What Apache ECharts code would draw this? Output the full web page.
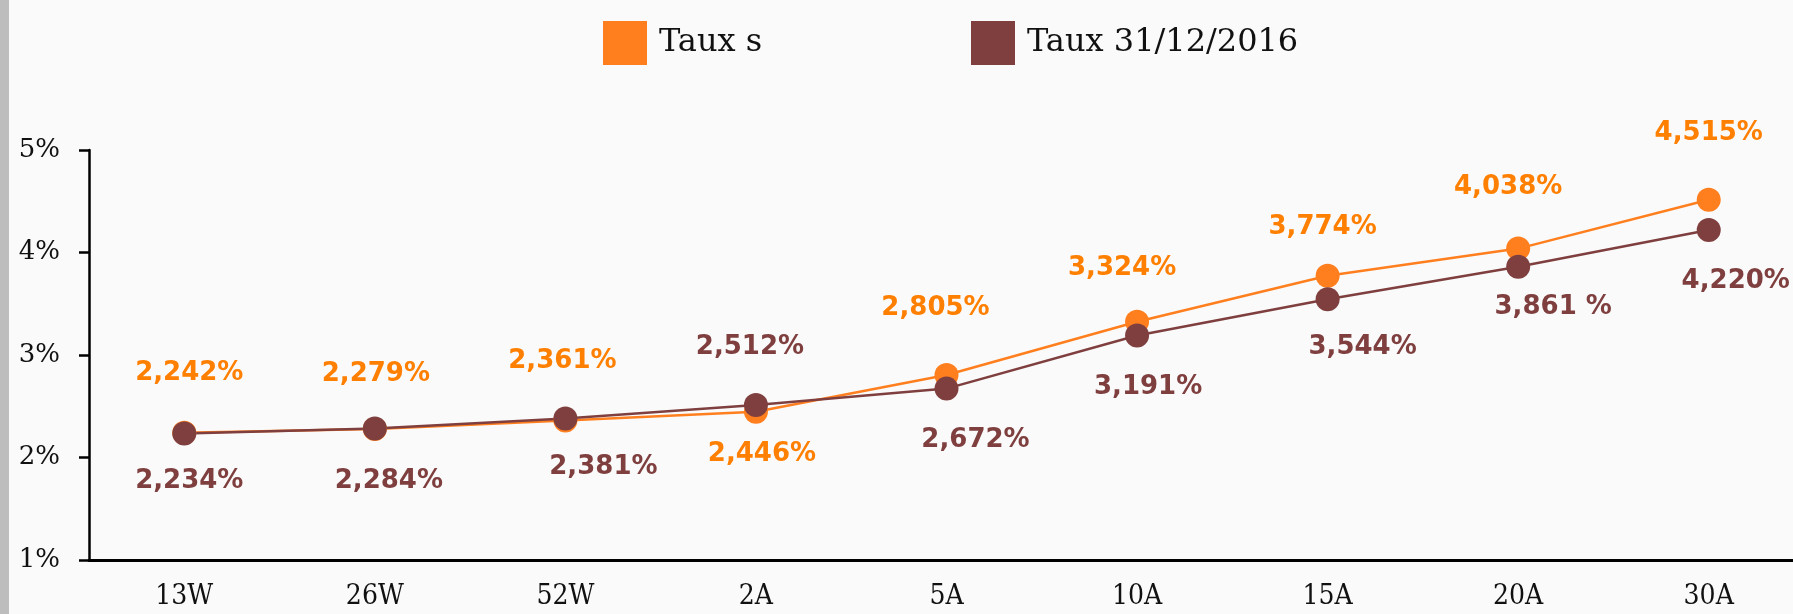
<!DOCTYPE html>
<html>
<head>
<meta charset="utf-8">
<script src="https://cdn.jsdelivr.net/npm/echarts@6/dist/echarts.min.js"></script>
<style>
  html, body { margin: 0; padding: 0; background: #fafafa; overflow: hidden; }
  /* plot runs slightly past the right edge of the window, as in the original */
  #chart { width: 1806px; height: 614px; }
</style>
</head>
<body>
<div id="chart"></div>
<script>
// maturities on the x axis
const maturities = ['13W', '26W', '52W', '2A', '5A', '10A', '15A', '20A', '30A'];

// rates in %
const tauxS = [2.242, 2.279, 2.361, 2.446, 2.805, 3.324, 3.774, 4.038, 4.515];
const taux2016 = [2.234, 2.284, 2.381, 2.512, 2.672, 3.191, 3.544, 3.861, 4.220];

// y axis ticks (%)
const yTicks = [1, 2, 3, 4, 5];

// label placement relative to each point (style only)
const tauxSOffsets = [[5, -59], [1, -55], [-3, -59], [6, 42], [-11, -67], [-15, -54], [-5, -48], [-10, -61], [0, -66]];
const taux2016Offsets = [[5, 48], [14, 53], [38, 49], [-6, -58], [29, 52], [11, 52], [35, 48], [35, 41], [27, 51]];

const ORANGE = '#ff7f1f';
const BROWN = '#7f3f3f';

function fmt(v) {
    return v.toFixed(3).replace('.', ',') + '%';
}

function buildPoints(values, offsets, textFix) {
    return values.map((v, i) => {
        const item = { value: v, label: { offset: offsets[i] } };
        if (textFix && textFix[i]) { item.label.formatter = textFix[i]; }
        return item;
    });
}

function lineSeries(name, color, labelColor, data) {
    return {
        name: name,
        type: 'line',
        data: data,
        symbol: 'circle',
        symbolSize: 24,
        showAllSymbol: true,
        lineStyle: { color: color, width: 2.5 },
        itemStyle: { color: color },
        label: {
            show: true,
            position: 'inside',
            align: 'center',
            verticalAlign: 'middle',
            color: labelColor,
            fontFamily: 'DejaVu Sans',
            fontWeight: 'bold',
            fontSize: 26,
            formatter: p => fmt(p.value)
        },
        emphasis: { disabled: true },
        animation: false
    };
}

const chart = echarts.init(document.getElementById('chart'));

const legendBase = {
    top: 16,
    icon: 'rect',
    itemWidth: 44,
    itemHeight: 44,
    textStyle: {
        fontFamily: 'DejaVu Serif',
        fontSize: 32,
        color: '#111',
        padding: [0, 0, 0, 7]
    },
    selectedMode: false
};

chart.setOption({
    backgroundColor: '#fafafa',
    graphic: [{
        type: 'rect',
        left: 0, top: 0,
        shape: { width: 9, height: 614 },
        style: { fill: '#bdbdbd' },
        silent: true
    }],
    legend: [
        Object.assign({}, legendBase, { left: 598, data: ['Taux s'] }),
        Object.assign({}, legendBase, { left: 966, data: ['Taux 31/12/2016'] })
    ],
    grid: { left: 89, top: 150, width: 1715, bottom: 54, containLabel: false },
    xAxis: {
        type: 'category',
        data: maturities,
        boundaryGap: true,
        axisLine: { show: true, lineStyle: { color: '#000', width: 3 } },
        axisTick: { show: false },
        axisLabel: {
            fontFamily: 'DejaVu Serif Condensed, DejaVu Serif',
            fontSize: 28,
            color: '#111',
            margin: 23
        }
    },
    yAxis: {
        type: 'value',
        min: yTicks[0],
        max: yTicks[yTicks.length - 1],
        interval: 1,
        splitLine: { show: false },
        axisLine: { show: true, lineStyle: { color: '#000', width: 2.5 } },
        axisTick: { show: true, length: 10, lineStyle: { color: '#000', width: 2.5 } },
        axisLabel: {
            fontFamily: 'DejaVu Serif',
            fontSize: 26,
            color: '#111',
            margin: 29,
            formatter: v => v + '%'
        }
    },
    series: [
        lineSeries('Taux s', ORANGE, '#ff7f00', buildPoints(tauxS, tauxSOffsets)),
        lineSeries('Taux 31/12/2016', BROWN, BROWN, buildPoints(taux2016, taux2016Offsets, { 7: '3,861 %' }))
    ]
});
</script>
</body>
</html>
